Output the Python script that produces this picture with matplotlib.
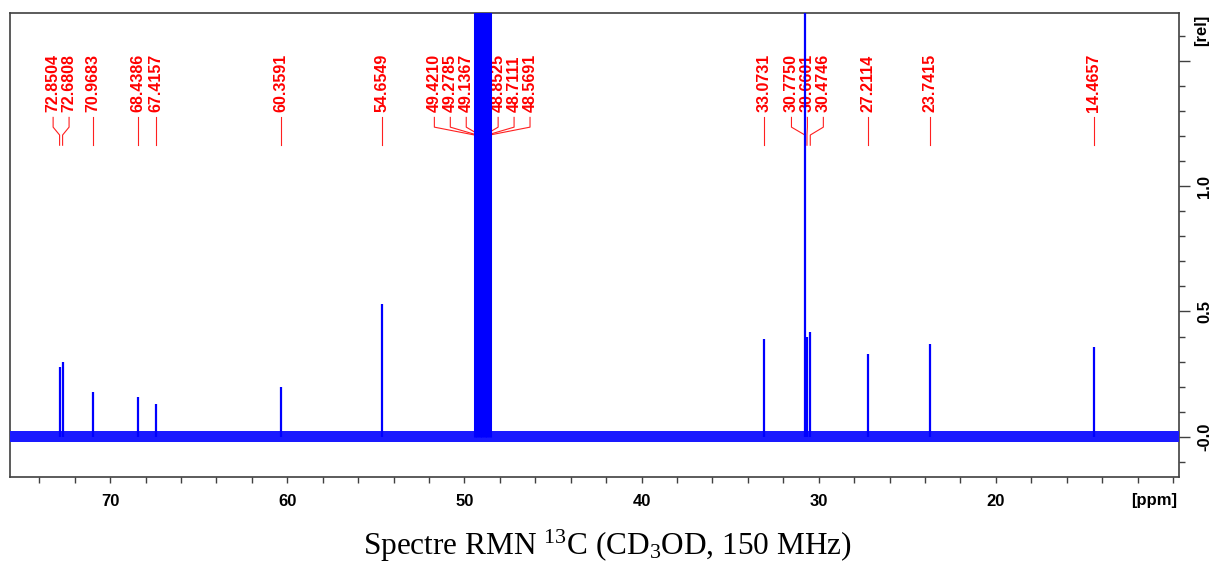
import numpy as np
import matplotlib.pyplot as plt
import matplotlib.transforms as mtransforms
from matplotlib.ticker import MultipleLocator, FixedLocator, FixedFormatter

# 13C NMR peaks (ppm) and relative heights
peak_ppm = [72.8504, 72.6808, 70.9683, 68.4386, 67.4157, 60.3591, 54.6549,
            33.0731, 30.7750, 30.6601, 30.4746, 27.2114, 23.7415, 14.4657]
peak_height = [0.28, 0.30, 0.18, 0.16, 0.13, 0.20, 0.53,
               0.39, 3.00, 0.40, 0.42, 0.33, 0.37, 0.36]

# CD3OD solvent septet (off scale)
solvent_ppm = [49.4210, 49.2785, 49.1367, 48.9953, 48.8525, 48.7111, 48.5691]
solvent_height = [3.0, 9.0, 18.0, 21.0, 18.0, 9.0, 3.0]

noise_level = 0.022

x_ticks = [70, 60, 50, 40, 30, 20, 10]
x_ticklabels = ['70', '60', '50', '40', '30', '20', '']
y_ticks = [0.0, 0.5, 1.0, 1.5]
y_ticklabels = ['-0.0', '0.5', '1.0', '']

caption = 'Spectre RMN $^{13}$C (CD$_3$OD, 150 MHz)'

plt.rcParams['font.family'] = ['Liberation Sans', 'DejaVu Sans']
plt.rcParams['mathtext.fontset'] = 'custom'
plt.rcParams['mathtext.rm'] = 'Liberation Serif'
plt.rcParams['mathtext.it'] = 'Liberation Serif:italic'


def spread_labels(pos, gap):
    # keep labels at least `gap` apart, centred on the peaks they belong to
    groups = [[p] for p in sorted(pos, reverse=True)]

    def place(g):
        c = np.mean(g)
        n = len(g)
        return [c + gap * ((n - 1) / 2 - i) for i in range(n)]

    merged = True
    while merged:
        merged = False
        for k in range(len(groups) - 1):
            a = place(groups[k])
            b = place(groups[k + 1])
            if a[-1] - b[0] < gap:
                groups[k] = groups[k] + groups[k + 1]
                del groups[k + 1]
                merged = True
                break
    out = []
    for g in groups:
        out += place(g)
    return out


fig = plt.figure(figsize=(12.14, 5.66), dpi=100)
ax = fig.add_axes([10 / 1214, 89 / 566, 1169 / 1214, 464 / 566])

ax.set_xlim(75.65, 9.66)
ax.set_ylim(-0.16, 1.69)

# baseline noise band
ax.fill_between([75.65, 9.66], -noise_level, noise_level,
                color='#1a1aff', linewidth=0, zorder=3)
ax.vlines(peak_ppm, 0, peak_height, color='#0000ff', linewidth=1.6, zorder=4)
ax.vlines(solvent_ppm, 0, solvent_height, color='#0000ff', linewidth=2.2, zorder=4)

# peak picking labels
all_ppm = sorted(peak_ppm + solvent_ppm, reverse=True)
label_pos = spread_labels(all_ppm, 0.9)
trans = mtransforms.blended_transform_factory(ax.transData, ax.transAxes)
for p, lx in zip(all_ppm, label_pos):
    ax.plot([lx, lx, p, p], [0.775, 0.754, 0.737, 0.715], color='#ff2020',
            linewidth=0.8, transform=trans, zorder=2, clip_on=False)
    ax.text(lx, 0.786, '{:.4f}'.format(p), transform=trans, rotation=90,
            ha='center', va='bottom', color='#ff0000', fontsize=11.5,
            fontweight='bold', zorder=2)

# axes styling
for s in ax.spines.values():
    s.set_color('#404040')
    s.set_linewidth(1.2)

ax.xaxis.set_major_locator(FixedLocator(x_ticks))
ax.xaxis.set_major_formatter(FixedFormatter(x_ticklabels))
ax.xaxis.set_minor_locator(MultipleLocator(2))
ax.tick_params(axis='x', which='both', direction='out', length=4.5, width=1,
               color='#404040', pad=8, labelsize=12)

ax.yaxis.tick_right()
ax.yaxis.set_major_locator(FixedLocator(y_ticks))
ax.yaxis.set_major_formatter(FixedFormatter(y_ticklabels))
ax.yaxis.set_minor_locator(MultipleLocator(0.1))
ax.tick_params(axis='y', which='major', direction='out', length=8, width=1,
               color='#404040', pad=5, labelsize=12, labelrotation=90)
ax.tick_params(axis='y', which='minor', direction='out', length=4.5, width=1,
               color='#404040')
for lab in ax.get_xticklabels() + ax.get_yticklabels():
    lab.set_fontweight('bold')
for lab in ax.get_yticklabels():
    lab.set_verticalalignment('center')

fig.text(1154 / 1214, 1 - 501 / 566, '[ppm]', ha='center', va='center',
         fontsize=12, fontweight='bold')
fig.text(1202 / 1214, 1 - 30 / 566, '[rel]', ha='center', va='center',
         rotation=90, fontsize=12, fontweight='bold')

fig.text(0.5, 1 - 546 / 566, caption, ha='center', va='center',
         fontsize=22.5, family='Liberation Serif')

fig.savefig('out.png', dpi=100)
